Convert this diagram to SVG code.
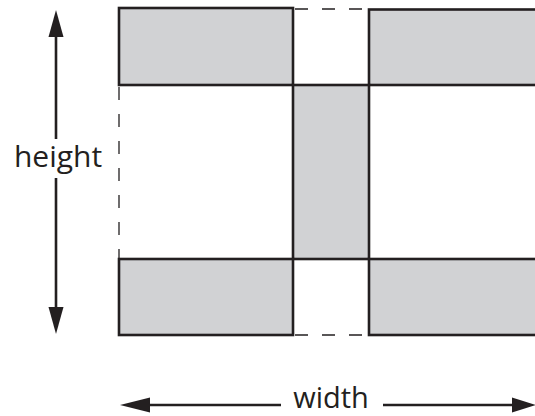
<svg xmlns="http://www.w3.org/2000/svg" width="535" height="416" viewBox="0 0 535 416">
<style>
.blk{fill:#d1d2d4;stroke:#231f20;stroke-width:2.6}
.dash{fill:none;stroke:#231f20;stroke-width:1.3;stroke-dasharray:13 14}
.ln{fill:none;stroke:#231f20;stroke-width:2.6}
.hd{fill:#231f20;stroke:none}
.lbl{font-family:"Open Sans","Liberation Sans",sans-serif;font-size:30px;fill:#231f20}
</style>
<rect width="535" height="416" fill="#ffffff"/>
<g id="connectors">
<line class="dash" x1="295" y1="9" x2="369" y2="9"/>
<line class="dash" x1="295" y1="335" x2="369" y2="335"/>
<line class="dash" x1="119" y1="87" x2="119" y2="259"/>
</g>
<g id="block-top-left"><rect class="blk" x="119" y="8" width="174" height="77"/></g>
<g id="block-top-right"><rect class="blk" x="369" y="9.5" width="175" height="75.5"/></g>
<g id="block-middle"><rect class="blk" x="293" y="85" width="76" height="174"/></g>
<g id="block-bottom-left"><rect class="blk" x="119" y="259" width="174" height="76"/></g>
<g id="block-bottom-right"><rect class="blk" x="369" y="259" width="175" height="76"/></g>
<g id="height-dim">
<line class="ln" x1="56" y1="34" x2="56" y2="139"/>
<line class="ln" x1="56" y1="178" x2="56" y2="310"/>
<polygon class="hd" points="56,10 48.5,37 63.5,37"/>
<polygon class="hd" points="56,334 48.5,307 63.5,307"/>
<text class="lbl" x="58" y="167" text-anchor="middle">height</text>
</g>
<g id="width-dim">
<line class="ln" x1="146" y1="405" x2="281" y2="405"/>
<line class="ln" x1="383" y1="405" x2="515" y2="405"/>
<polygon class="hd" points="120,405 150,397.5 150,412.5"/>
<polygon class="hd" points="536,405 512,397.5 512,412.5"/>
<text class="lbl" x="331" y="407.5" font-size="29" style="font-size:29px" text-anchor="middle">width</text>
</g>
</svg>
